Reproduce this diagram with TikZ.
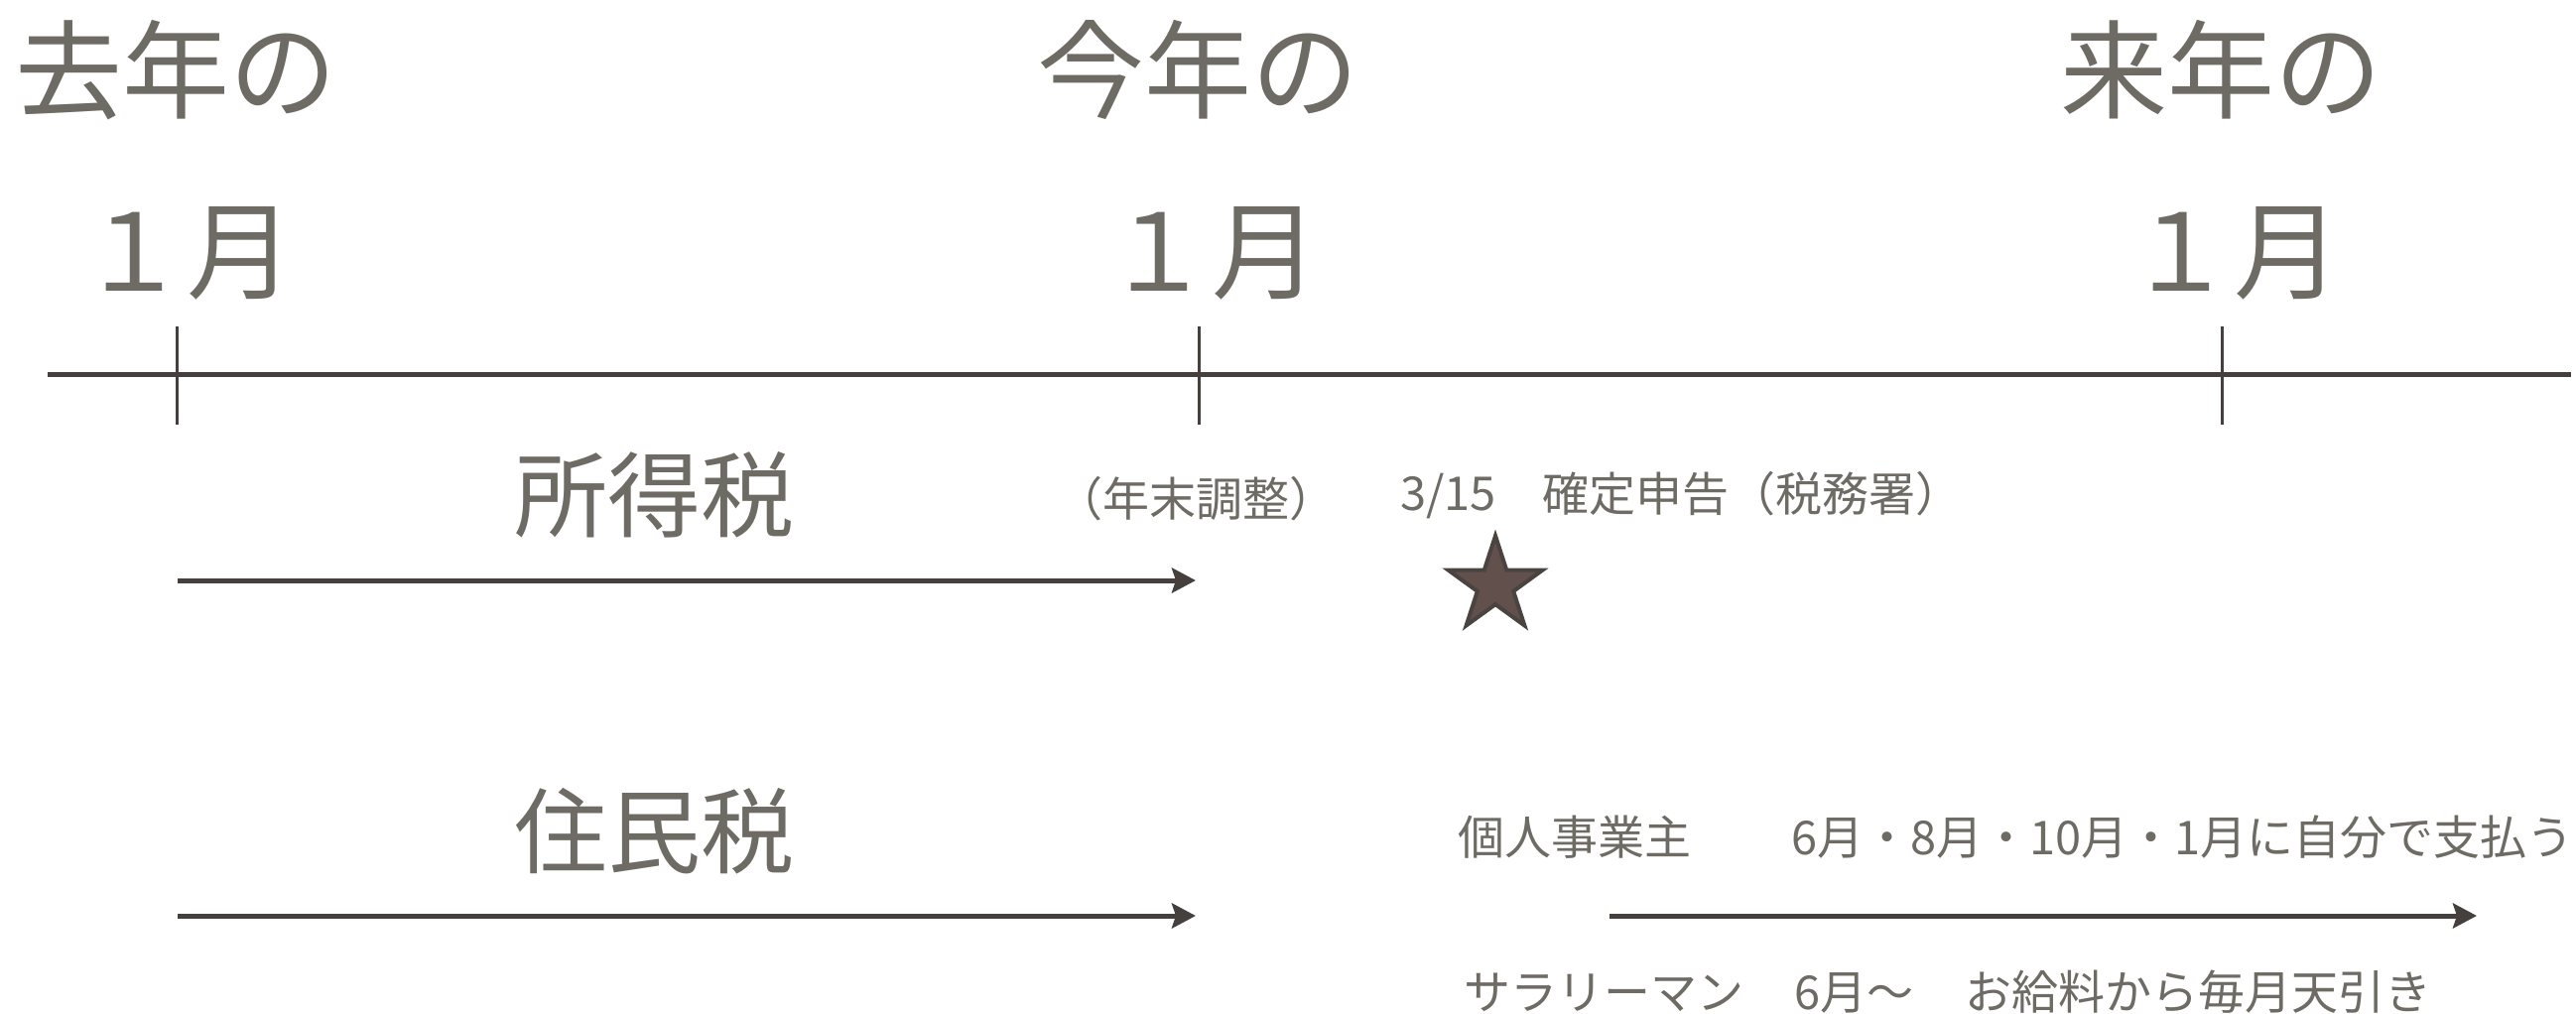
\documentclass[tikz,border=0pt]{standalone}
\usepackage{fontspec}
\setmainfont{Noto Sans CJK JP}
\usetikzlibrary{shapes.geometric, arrows.meta}
\definecolor{txt}{HTML}{6E6B65}
\definecolor{ln}{HTML}{45403E}
\definecolor{starfill}{HTML}{62504D}
\definecolor{starline}{HTML}{4A4441}
\begin{document}
\begin{tikzpicture}[x=1pt,y=-1pt,
  big/.style={inner sep=0, text=txt, font=\fontsize{108}{120}\selectfont, text height=95pt, text depth=13pt},
  mid/.style={inner sep=0, text=txt, font=\fontsize{94}{100}\selectfont, text height=83pt, text depth=11pt},
  small/.style={inner sep=0, text=txt, font=\fontsize{47}{50}\selectfont, text height=41pt, text depth=6pt},
  axis/.style={draw=ln, line width=5pt},
  tickline/.style={draw=ln, line width=3pt},
  period/.style={draw=ln, line width=5pt, -{Stealth[length=24pt,width=25pt,inset=4pt]}},
  starmark/.style={star, star points=5, star point ratio=2.618, inner sep=0, minimum size=100pt,
    fill=starfill, draw=starline, line width=4pt},
]
\useasboundingbox (0,0) rectangle (2596,1021);

% headers
\node[big] (y1) at (177,70) {去年の};
\node[big] (y2) at (1207,70) {今年の};
\node[big] (y3) at (2238,70) {来年の};
\node[big] (m1) at (188,252) {１月};
\node[big] (m2) at (1221,252) {１月};
\node[big] (m3) at (2251,252) {１月};

% timeline
\coordinate (tl) at (48,377);
\coordinate (tr) at (2591,377);
\draw[axis] (tl) -- (tr);
\coordinate (t1a) at (178,329); \coordinate (t1b) at (178,428);
\coordinate (t2a) at (1208,329); \coordinate (t2b) at (1208,428);
\coordinate (t3a) at (2239,329); \coordinate (t3b) at (2239,428);
\draw[tickline] (t1a) -- (t1b);
\draw[tickline] (t2a) -- (t2b);
\draw[tickline] (t3a) -- (t3b);

% income tax
\node[mid] (shotoku) at (659,498) {所得税};
\coordinate (a1s) at (179,585);
\coordinate (a1e) at (1205,585);
\draw[period] (a1s) -- (a1e);
\node[small] (nenmatsu) at (1205,503) {（年末調整）};
\node[small, anchor=west] (date) at (1411,497) {3/15};
\node[small, anchor=west] (kakutei) at (1554,498) {確定申告（税務署）};
\node[starmark] (star) at (1507,590) {};

% resident tax
\node[mid] (jumin) at (659,837) {住民税};
\coordinate (a2s) at (179,923);
\coordinate (a2e) at (1205,923);
\draw[period] (a2s) -- (a2e);
\node[small, anchor=west] (kojin) at (1469,844) {個人事業主};
\node[small, anchor=west] (kojinpay) at (1805,844) {6月・8月・10月・1月に自分で支払う};
\coordinate (a3s) at (1622,923);
\coordinate (a3e) at (2496,923);
\draw[period] (a3s) -- (a3e);
\node[small, anchor=west] (salary) at (1475,1000) {サラリーマン};
\node[small, anchor=west] (june) at (1808,1000) {6月〜};
\node[small, anchor=west] (tenbiki) at (1980,1000) {お給料から毎月天引き};
\end{tikzpicture}
\end{document}
